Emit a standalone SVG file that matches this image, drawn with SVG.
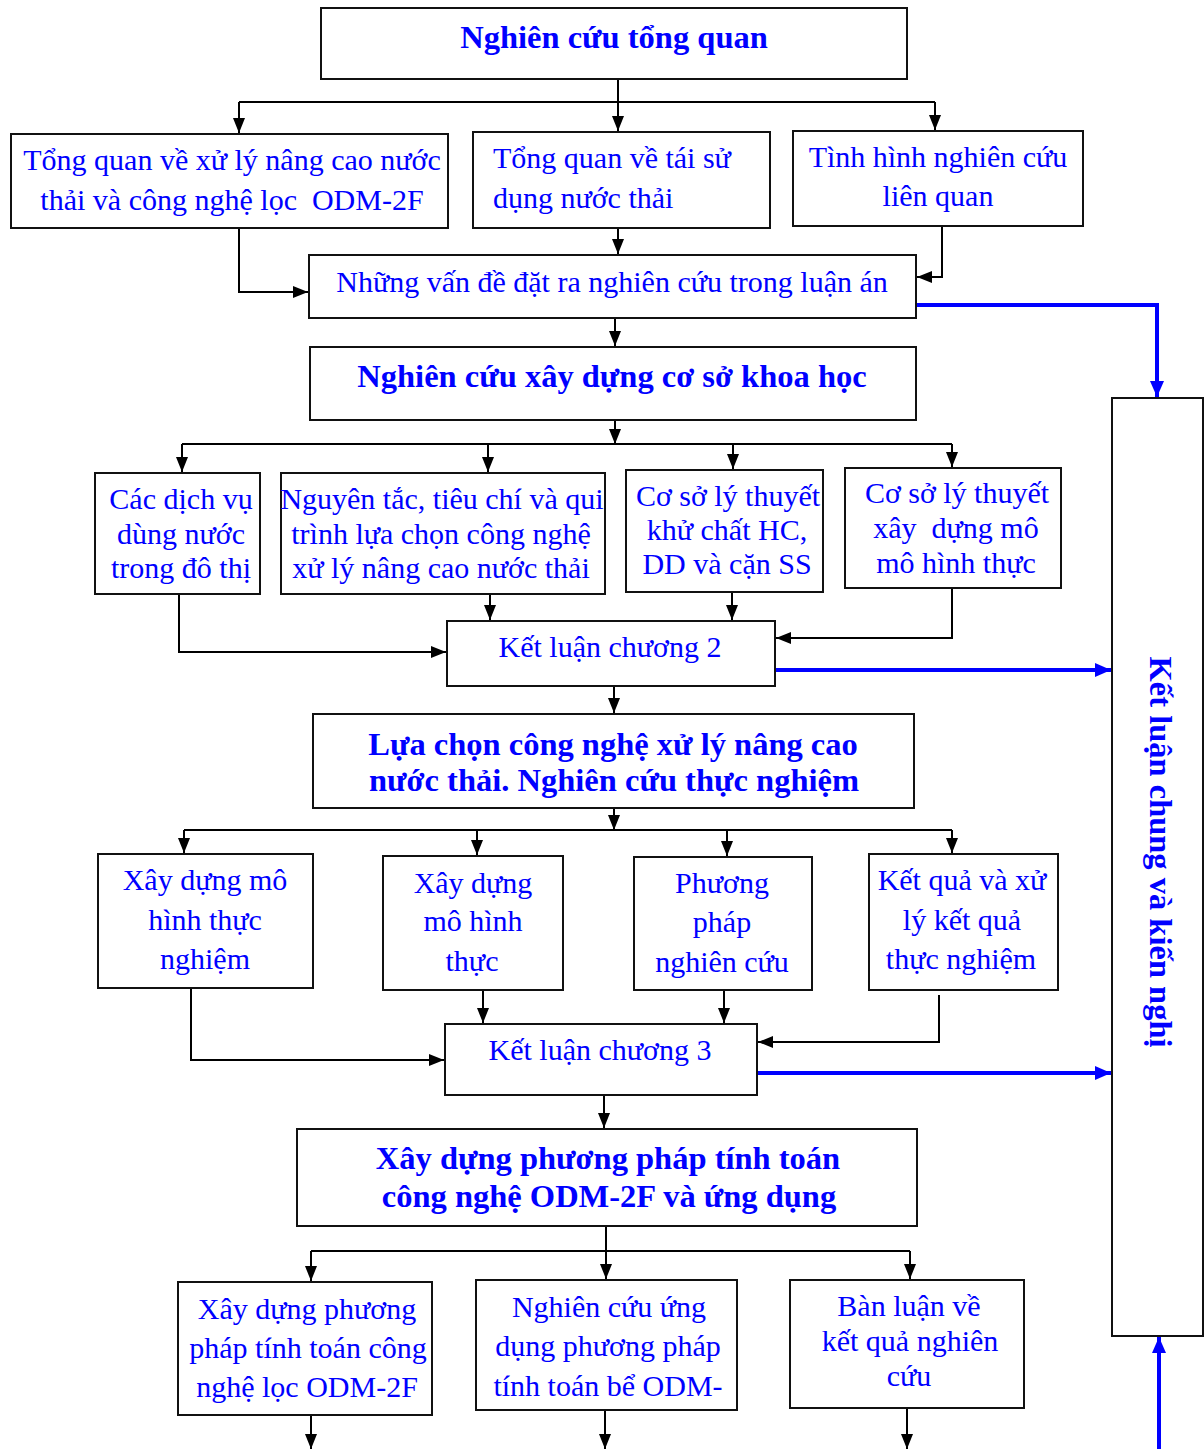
<svg xmlns="http://www.w3.org/2000/svg" width="1204" height="1449" viewBox="0 0 1204 1449">
  <style>
    .box { fill: #fff; stroke: #111; stroke-width: 2; }
    .t { font-family: "Liberation Serif", "Times New Roman", serif; font-size: 30px; fill: #0000ff; text-anchor: middle; }
    .tl { text-anchor: start; }
    .b { font-family: "Liberation Serif", "Times New Roman", serif; font-size: 32.5px; font-weight: bold; fill: #0000ff; text-anchor: middle; }
    .ln { fill: none; stroke: #000; stroke-width: 2; }
    .la { fill: none; stroke: #000; stroke-width: 2; marker-end: url(#ah); }
    .blue { fill: none; stroke: #0000ff; stroke-width: 4; marker-end: url(#ahb); }
  </style>
  <defs>
    <marker id="ah" viewBox="0 0 15 12" refX="15" refY="6" markerWidth="15" markerHeight="12" markerUnits="userSpaceOnUse" orient="auto">
      <path d="M0,0 L15,6 L0,12 z" fill="#000"/>
    </marker>
    <marker id="ahb" viewBox="0 0 16 14" refX="16" refY="7" markerWidth="16" markerHeight="14" markerUnits="userSpaceOnUse" orient="auto">
      <path d="M0,0 L16,7 L0,14 z" fill="#0000ff"/>
    </marker>
  </defs>

  <rect width="1204" height="1449" fill="#fff"/>

  <!-- connectors -->
  <g id="connectors">
    <!-- level 1 fan-out -->
    <path class="la" d="M618,79 V131"/>
    <path class="ln" d="M239,102 H935"/>
    <path class="la" d="M239,102 V133"/>
    <path class="la" d="M935,102 V130"/>
    <!-- into "Những vấn đề" -->
    <path class="la" d="M239,228 V292 H308"/>
    <path class="la" d="M618,228 V254"/>
    <path class="la" d="M942,226 V277 H917"/>
    <path class="la" d="M615,318 V346"/>
    <!-- level 2 fan-out -->
    <path class="la" d="M615,420 V444"/>
    <path class="ln" d="M182,444 H952"/>
    <path class="la" d="M182,444 V472"/>
    <path class="la" d="M488,444 V472"/>
    <path class="la" d="M733,444 V469"/>
    <path class="la" d="M952,444 V467"/>
    <!-- into "Kết luận chương 2" -->
    <path class="la" d="M179,594 V652 H446"/>
    <path class="la" d="M490,594 V620"/>
    <path class="la" d="M732,592 V620"/>
    <path class="la" d="M952,588 V638 H776"/>
    <path class="la" d="M614,686 V713"/>
    <!-- level 3 fan-out -->
    <path class="la" d="M614,808 V830"/>
    <path class="ln" d="M184,830 H952"/>
    <path class="la" d="M184,830 V853"/>
    <path class="la" d="M477,830 V855"/>
    <path class="la" d="M727,830 V856"/>
    <path class="la" d="M952,830 V853"/>
    <!-- into "Kết luận chương 3" -->
    <path class="la" d="M191,988 V1060 H444"/>
    <path class="la" d="M483,990 V1023"/>
    <path class="la" d="M724,990 V1023"/>
    <path class="la" d="M939,995 V1042 H758"/>
    <path class="la" d="M604,1095 V1128"/>
    <!-- level 4 fan-out -->
    <path class="la" d="M606,1226 V1279"/>
    <path class="ln" d="M311,1251 H910"/>
    <path class="la" d="M311,1251 V1281"/>
    <path class="la" d="M910,1251 V1279"/>
    <!-- outgoing at bottom -->
    <path class="la" d="M311,1415 V1449"/>
    <path class="la" d="M605,1410 V1449"/>
    <path class="la" d="M907,1408 V1449"/>
    <!-- blue links to the conclusion column -->
    <path class="blue" d="M916,305 H1157 V397"/>
    <path class="blue" d="M776,670 H1111"/>
    <path class="blue" d="M758,1073 H1111"/>
    <path class="blue" d="M1159,1449 V1337"/>
  </g>

  <g id="n-tongquan">
    <rect class="box" x="321" y="8" width="586" height="71"/>
    <text class="b" x="614" y="48">Nghiên cứu tổng quan</text>
  </g>

  <g id="n-xuly">
    <rect class="box" x="11" y="134" width="437" height="94"/>
    <text class="t" x="232" y="170">Tổng quan về xử lý nâng cao nước</text>
    <text class="t" x="232" y="210" xml:space="preserve">thải và công nghệ lọc  ODM-2F</text>
  </g>

  <g id="n-taisudung">
    <rect class="box" x="473" y="132" width="297" height="96"/>
    <text class="t tl" x="493" y="168">Tổng quan về tái sử</text>
    <text class="t tl" x="493" y="208">dụng nước thải</text>
  </g>

  <g id="n-tinhhinh">
    <rect class="box" x="793" y="131" width="290" height="95"/>
    <text class="t" x="938" y="167">Tình hình nghiên cứu</text>
    <text class="t" x="938" y="206">liên quan</text>
  </g>

  <g id="n-vande">
    <rect class="box" x="309" y="255" width="607" height="63"/>
    <text class="t" x="612" y="292">Những vấn đề đặt ra nghiên cứu trong luận án</text>
  </g>

  <g id="n-cosokhoahoc">
    <rect class="box" x="310" y="347" width="606" height="73"/>
    <text class="b" x="612" y="387">Nghiên cứu xây dựng cơ sở khoa học</text>
  </g>

  <g id="n-dichvu">
    <rect class="box" x="95" y="473" width="165" height="121"/>
    <text class="t" x="181" y="509">Các dịch vụ</text>
    <text class="t" x="181" y="544">dùng nước</text>
    <text class="t" x="181" y="578">trong đô thị</text>
  </g>

  <g id="n-nguyentac">
    <rect class="box" x="281" y="473" width="324" height="121"/>
    <text class="t" x="442" y="509">Nguyên tắc, tiêu chí và qui</text>
    <text class="t" x="441" y="544">trình lựa chọn công nghệ</text>
    <text class="t" x="441" y="578">xử lý nâng cao nước thải</text>
  </g>

  <g id="n-khuchat">
    <rect class="box" x="626" y="470" width="197" height="122"/>
    <text class="t" x="728" y="506">Cơ sở lý thuyết</text>
    <text class="t" x="727" y="540">khử chất HC,</text>
    <text class="t" x="727" y="574">DD và cặn SS</text>
  </g>

  <g id="n-mohinh-lt">
    <rect class="box" x="845" y="468" width="216" height="120"/>
    <text class="t" x="957" y="503">Cơ sở lý thuyết</text>
    <text class="t" x="956" y="538" xml:space="preserve">xây  dựng mô</text>
    <text class="t" x="956" y="573">mô hình thực</text>
  </g>

  <g id="n-ketluan2">
    <rect class="box" x="447" y="621" width="328" height="65"/>
    <text class="t" x="610" y="657">Kết luận chương 2</text>
  </g>

  <g id="n-luachon">
    <rect class="box" x="313" y="714" width="601" height="94"/>
    <text class="b" x="613" y="755">Lựa chọn công nghệ xử lý nâng cao</text>
    <text class="b" x="614" y="791">nước thải. Nghiên cứu thực nghiệm</text>
  </g>

  <g id="n-mohinh-tn">
    <rect class="box" x="98" y="854" width="215" height="134"/>
    <text class="t" x="205" y="890">Xây dựng mô</text>
    <text class="t" x="205" y="930">hình thực</text>
    <text class="t" x="205" y="969">nghiệm</text>
  </g>

  <g id="n-mohinh-thuc">
    <rect class="box" x="383" y="856" width="180" height="134"/>
    <text class="t" x="473" y="893">Xây dựng</text>
    <text class="t" x="473" y="931">mô hình</text>
    <text class="t" x="472" y="971">thực</text>
  </g>

  <g id="n-phuongphap">
    <rect class="box" x="634" y="857" width="178" height="133"/>
    <text class="t" x="722" y="893">Phương</text>
    <text class="t" x="722" y="932">pháp</text>
    <text class="t" x="722" y="972">nghiên cứu</text>
  </g>

  <g id="n-ketqua">
    <rect class="box" x="869" y="854" width="189" height="136"/>
    <text class="t" x="962" y="890">Kết quả và xử</text>
    <text class="t" x="962" y="930">lý kết quả</text>
    <text class="t" x="961" y="969">thực nghiệm</text>
  </g>

  <g id="n-ketluan3">
    <rect class="box" x="445" y="1024" width="312" height="71"/>
    <text class="t" x="600" y="1060">Kết luận chương 3</text>
  </g>

  <g id="n-tinhtoan">
    <rect class="box" x="297" y="1129" width="620" height="97"/>
    <text class="b" x="608" y="1169">Xây dựng phương pháp tính toán</text>
    <text class="b" x="609" y="1207">công nghệ ODM-2F và ứng dụng</text>
  </g>

  <g id="n-xaydungpp">
    <rect class="box" x="178" y="1282" width="254" height="133"/>
    <text class="t" x="307" y="1319">Xây dựng phương</text>
    <text class="t" x="308" y="1358">pháp tính toán công</text>
    <text class="t" x="307" y="1397">nghệ lọc ODM-2F</text>
  </g>

  <g id="n-ungdung">
    <rect class="box" x="476" y="1280" width="261" height="130"/>
    <text class="t" x="609" y="1317">Nghiên cứu ứng</text>
    <text class="t" x="608" y="1356">dụng phương pháp</text>
    <text class="t" x="608" y="1396">tính toán bể ODM-</text>
  </g>

  <g id="n-banluan">
    <rect class="box" x="790" y="1280" width="234" height="128"/>
    <text class="t" x="909" y="1316">Bàn luận về</text>
    <text class="t" x="910" y="1351">kết quả nghiên</text>
    <text class="t" x="909" y="1386">cứu</text>
  </g>

  <g id="n-ketluanchung">
    <rect class="box" x="1112" y="398" width="91" height="938"/>
    <text class="b" transform="translate(1150,852) rotate(90)">Kết luận chung và kiến nghị</text>
  </g>
</svg>
